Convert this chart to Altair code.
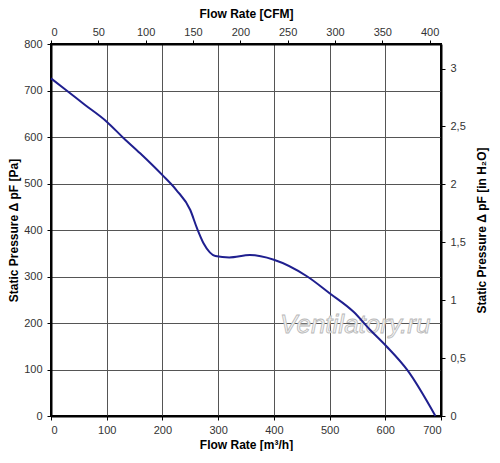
import altair as alt
import pandas as pd

# Fan curve
flow_m3h = [0, 28, 60, 100, 130, 160, 200, 225, 250, 262, 274, 285, 295, 320, 357, 400, 460, 500, 543, 573, 602, 640, 690]
pressure_pa = [726, 700, 670, 633, 598, 565, 518, 486, 443, 404, 371, 352, 344, 341, 346, 336, 300, 264, 224, 185, 150, 98, 0]

x_ticks = [0, 100, 200, 300, 400, 500, 600, 700]
y_ticks = [0, 100, 200, 300, 400, 500, 600, 700, 800]
cfm_ticks = [0, 50, 100, 150, 200, 250, 300, 350, 400]
inh2o_ticks = [0, 0.5, 1, 1.5, 2, 2.5, 3]

M3H_PER_CFM = 1.699
PA_PER_INH2O = 249.09
X_MAX = 700
Y_MAX = 800

FONT = "Liberation Sans"

df = pd.DataFrame({"q": flow_m3h, "p": pressure_pa})
cfm_df = pd.DataFrame({"cfm": [0, X_MAX / M3H_PER_CFM]})
inh_df = pd.DataFrame({"inh": [0, Y_MAX / PA_PER_INH2O]})
wm_df = pd.DataFrame({"q": [546], "p": [196], "t": ["Ventilatory.ru"]})

common_axis = dict(
    domainColor="black", domainWidth=2, tickColor="black", tickSize=4,
    labelFont=FONT, labelFontSize=11, labelColor="#333333",
    titleFont=FONT, titleFontSize=12, titleFontWeight="bold", titleColor="black",
)


def x_main():
    return alt.X("q:Q", scale=alt.Scale(domain=[0, X_MAX], nice=False),
                 axis=alt.Axis(orient="bottom", values=x_ticks, title="Flow Rate [m³/h]",
                               grid=True, gridColor="#555555", gridWidth=1,
                               labelPadding=4, titlePadding=4, **common_axis))


def y_main():
    return alt.Y("p:Q", scale=alt.Scale(domain=[0, Y_MAX], nice=False),
                 axis=alt.Axis(orient="left", values=y_ticks, title="Static Pressure Δ pF [Pa]",
                               grid=True, gridColor="#555555", gridWidth=1,
                               labelPadding=5, titlePadding=3, **common_axis))


curve = alt.Chart(df).mark_line(color="#1f1f8f", strokeWidth=2, interpolate="monotone").encode(
    x=x_main(), y=y_main())

watermark = alt.Chart(wm_df).mark_text(
    font=FONT, fontSize=26, fontStyle="italic", fill="#f4f4f4", stroke="#b8b8b8",
    strokeWidth=0.8).encode(x=x_main(), y=y_main(), text="t:N")

main = alt.layer(watermark, curve)

top_axis = alt.Chart(cfm_df).mark_point(opacity=0).encode(
    x=alt.X("cfm:Q", scale=alt.Scale(domain=[0, X_MAX / M3H_PER_CFM], nice=False, zero=False),
            axis=alt.Axis(orient="top", values=cfm_ticks, title="Flow Rate [CFM]", grid=False,
                          labelPadding=3, titlePadding=6, **common_axis)))

right_axis = alt.Chart(inh_df).mark_point(opacity=0).encode(
    y=alt.Y("inh:Q", scale=alt.Scale(domain=[0, Y_MAX / PA_PER_INH2O], nice=False, zero=False),
            axis=alt.Axis(orient="right", values=inh2o_ticks, title="Static Pressure Δ pF [in H₂O]",
                          grid=False, format=".1~f", labelExpr="replace(datum.label, '.', ',')",
                          titleAngle=270, titleBaseline="bottom",
                          labelPadding=5, titlePadding=23, **common_axis)))

chart = alt.layer(main, top_axis, right_axis).resolve_scale(
    x="independent", y="independent"
).properties(
    width=390, height=372,
    autosize=alt.AutoSizeParams(type="none"),
    padding={"left": 43, "top": 36, "right": 51, "bottom": 35},
    background="white",
).configure_view(stroke="black", strokeWidth=2)

chart.save("out.html", embed_options={"renderer": "svg", "actions": False})
